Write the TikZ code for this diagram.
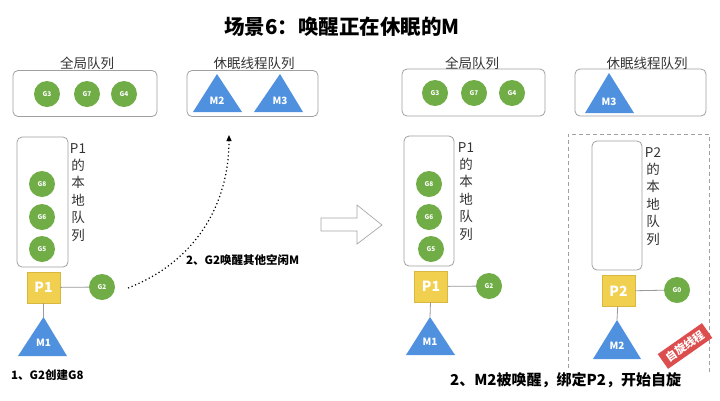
\documentclass[tikz,border=0pt]{standalone}
\usepackage{fontspec}
\setmainfont{Noto Sans CJK SC}
\usetikzlibrary{arrows.meta}
\definecolor{ggreen}{HTML}{70AD47}
\definecolor{pyellow}{HTML}{F1CF4F}
\definecolor{pyedge}{HTML}{D9B840}
\definecolor{mblue}{HTML}{4F91DE}
\definecolor{boxgray}{HTML}{A0A0A0}
\definecolor{linkgray}{HTML}{9A9A9A}
\definecolor{stampred}{HTML}{DC4E4E}
\begin{document}
\begin{tikzpicture}[x=1pt,y=-1pt,
  box/.style={draw=boxgray, rounded corners=5pt, line width=0.8pt, inner sep=0},
  gnode/.style={circle, fill=ggreen, minimum size=26pt, inner sep=0, text=white, font=\bfseries\fontsize{6.5}{7}\selectfont},
  pnode/.style={rectangle, fill=pyellow, draw=pyedge, line width=0.6pt, minimum width=33pt, minimum height=31pt, inner sep=0, text=white, font=\bfseries\fontsize{14}{16}\selectfont},
  mtri/.style={fill=mblue},
  mlabel/.style={text=white, font=\bfseries\fontsize{10}{12}\selectfont, inner sep=0},
  link/.style={draw=linkgray, line width=0.8pt},
  qlabel/.style={font=\fontsize{13.5}{15}\selectfont, text=black!80, inner sep=0},
  vlabel/.style={font=\fontsize{13.5}{17.4}\selectfont, text=black!80, align=center, inner sep=0, anchor=north},
  note/.style={font=\bfseries\fontsize{11.5}{13}\selectfont, inner sep=0}
]
\useasboundingbox (0,0) rectangle (720,400);

% title
\node[font=\bfseries\fontsize{20.5}{24}\selectfont, inner sep=0] (title) at (342,27) {场景6：唤醒正在休眠的M};

% ---------- left: global queue ----------
\node[box, minimum width=144pt, minimum height=46pt] (gq1) at (85,93.5) {};
\node[qlabel] (gq1l) at (87,63) {全局队列};
\node[gnode] (g3a) at (47,94) {G3};
\node[gnode] (g7a) at (87,94) {G7};
\node[gnode] (g4a) at (124,94) {G4};

% ---------- left: sleeping queue ----------
\node[box, minimum width=131pt, minimum height=46pt] (sq1) at (252.5,93.5) {};
\node[qlabel] (sq1l) at (254,63) {休眠线程队列};
\fill[mtri] (193,112) -- (217,74) -- (242,112) -- cycle;
\node[mlabel] (m2a) at (217,101) {M2};
\fill[mtri] (254,112) -- (280,74) -- (303,112) -- cycle;
\node[mlabel] (m3a) at (280,101) {M3};
\coordinate (m2top) at (229,135);

% ---------- left: P1 ----------
\node[box, minimum width=51pt, minimum height=130pt] (lq1) at (42.5,202) {};
\node[vlabel] (lq1l) at (78,143) {P1\\的\\本\\地\\队\\列};
\node[gnode] (g8a) at (42,184) {G8};
\node[gnode] (g6a) at (42,217) {G6};
\node[gnode] (g5a) at (42,249) {G5};
\node[pnode] (p1a) at (43.5,287.5) {P1};
\node[gnode] (g2a) at (102,287) {G2};
\fill[mtri] (18,356) -- (43.5,317) -- (67,356) -- cycle;
\coordinate (m1atop) at (43.5,317);
\node[mlabel] (m1a) at (43.5,343) {M1};
\draw[link] (p1a) -- (g2a);
\draw[link] (p1a) -- (m1atop);
\node[note, anchor=west] (n1) at (11,375) {1、G2创建G8};

% dotted arrow
\coordinate (dstart) at (128,288);
\draw[line width=1.2pt, dash pattern=on 1.2pt off 2.6pt, -{Triangle[length=6pt,width=5pt]}]
  (dstart) .. controls (195,262) and (229,205) .. (m2top);
\node[note, anchor=west] (n2) at (186,260) {2、G2唤醒其他空闲M};

% big hollow arrow
\draw[draw=black!35, line width=0.7pt, fill=white] (321,218) -- (357,218) -- (357,205) -- (382,225) -- (357,244) -- (357,231) -- (321,231) -- cycle;

% ---------- right: global queue ----------
\node[box, minimum width=143pt, minimum height=47pt] (gq2) at (473.5,92.5) {};
\node[qlabel] (gq2l) at (472,63) {全局队列};
\node[gnode] (g3b) at (435,93) {G3};
\node[gnode] (g7b) at (474,93) {G7};
\node[gnode] (g4b) at (512,93) {G4};

% ---------- right: sleeping queue ----------
\node[box, minimum width=131pt, minimum height=47pt] (sq2) at (640.5,92.5) {};
\node[qlabel] (sq2l) at (647,63) {休眠线程队列};
\fill[mtri] (585,113) -- (609,73) -- (634,113) -- cycle;
\node[mlabel] (m3b) at (609,102) {M3};

% ---------- right: P1 ----------
\node[box, minimum width=50pt, minimum height=130pt] (lq2) at (429,201) {};
\node[vlabel] (lq2l) at (466,142) {P1\\的\\本\\地\\队\\列};
\node[gnode] (g8b) at (429,184) {G8};
\node[gnode] (g6b) at (429,217) {G6};
\node[gnode] (g5b) at (431,249) {G5};
\node[pnode] (p1b) at (431,286.5) {P1};
\node[gnode] (g2b) at (489,286) {G2};
\fill[mtri] (406,355) -- (430,317) -- (455,355) -- cycle;
\coordinate (m1btop) at (430,317);
\node[mlabel] (m1b) at (430,342) {M1};
\draw[link] (p1b) -- (g2b);
\draw[link] (p1b) -- (m1btop);

% ---------- right: P2 (spinning) ----------
\draw[draw=boxgray, line width=0.7pt, dash pattern=on 4pt off 3pt] (568,368) -- (568,134) -- (709,134) -- (709,372);
\node[box, minimum width=50pt, minimum height=129pt] (lq3) at (617,205.5) {};
\node[vlabel] (lq3l) at (653,147) {P2\\的\\本\\地\\队\\列};
\node[pnode] (p2) at (618.5,291) {P2};
\node[gnode] (g0) at (677,290) {G0};
\fill[mtri] (593,359) -- (617,320) -- (641,359) -- cycle;
\coordinate (m2btop) at (617,320);
\node[mlabel] (m2b) at (617,346) {M2};
\draw[link] (p2) -- (g0);
\draw[link] (p2) -- (m2btop);
\node[rotate=35, fill=stampred, text=white, font=\bfseries\fontsize{11}{13}\selectfont, minimum width=54pt, minimum height=18pt, inner sep=1.5pt] (stamp) at (685,346) {自旋线程};

\node[font=\bfseries\fontsize{15}{18}\selectfont, inner sep=0, anchor=west] (n3) at (450,380) {2、M2被唤醒，绑定P2，开始自旋};
\end{tikzpicture}
\end{document}
